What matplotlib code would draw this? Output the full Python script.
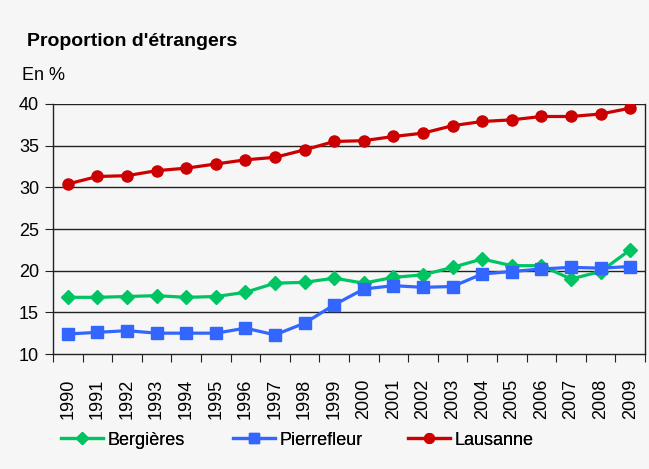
import matplotlib
matplotlib.use("Agg")
import matplotlib.pyplot as plt
from matplotlib.lines import Line2D

plt.rcParams['font.family'] = ['Liberation Sans Narrow', 'Liberation Sans', 'DejaVu Sans']

years = [str(y) for y in range(1990, 2010)]
bergieres = [16.8, 16.8, 16.9, 17.0, 16.8, 16.9, 17.4, 18.5, 18.6, 19.1,
             18.5, 19.2, 19.5, 20.4, 21.4, 20.6, 20.6, 19.0, 19.9, 22.5]
pierrefleur = [12.4, 12.6, 12.8, 12.5, 12.5, 12.5, 13.1, 12.3, 13.7, 15.9,
               17.8, 18.2, 18.0, 18.1, 19.6, 19.9, 20.2, 20.4, 20.3, 20.5]
lausanne = [30.4, 31.3, 31.4, 32.0, 32.3, 32.8, 33.3, 33.6, 34.5, 35.5,
            35.6, 36.1, 36.5, 37.4, 37.9, 38.1, 38.5, 38.5, 38.8, 39.5]
series_names = ['Bergières', 'Pierrefleur', 'Lausanne']
yticks = [10, 15, 20, 25, 30, 35, 40]

bg = '#f6f6f6'
fig = plt.figure(figsize=(6.49, 4.69), dpi=100, facecolor=bg)
ax = fig.add_axes([53/649, 1-354/469, (645-53)/649, 250/469], facecolor=bg)

x = list(range(len(years)))
c_g, c_b, c_r = '#00c461', '#3366ff', '#cc0000'
ax.plot(x, bergieres, color=c_g, lw=2.3, marker='D', ms=7, mec=c_g, zorder=3)
ax.plot(x, pierrefleur, color=c_b, lw=2.3, marker='s', ms=8, mec=c_b, zorder=3)
ax.plot(x, lausanne, color=c_r, lw=2.3, marker='o', ms=8, mec=c_r, zorder=4)

ax.set_ylim(10, 40)
ax.set_xlim(-0.5, len(years) - 0.5)
ax.set_yticks(yticks)
ax.set_yticklabels([str(v) for v in yticks], fontsize=13)
for v in yticks[1:]:
    ax.axhline(v, color='#222222', lw=1.0, zorder=1)

ax.set_xticks([i - 0.5 for i in range(len(years) + 1)])
ax.set_xticklabels([])
ax.set_xticks(x, minor=True)
ax.set_xticklabels(years, minor=True, rotation=90, fontsize=13)
ax.tick_params(axis='x', which='major', length=6, direction='out', color='#222222')
ax.tick_params(axis='x', which='minor', length=0, pad=18)
ax.tick_params(axis='y', length=6, direction='out', pad=4, color='#222222')

for s in ['left', 'bottom', 'right']:
    ax.spines[s].set_color('#222222')
    ax.spines[s].set_linewidth(1.0)
ax.spines['top'].set_visible(False)

fig.text(27/649, 1-42/469, "Proportion d'étrangers", fontsize=14, fontweight='bold',
         va='center', ha='left')
fig.text(22/649, 1-75/469, "En %", fontsize=13, va='center', ha='left')

handles = [
    Line2D([], [], color=c_g, lw=2.3, marker='D', ms=6, mec=c_g),
    Line2D([], [], color=c_b, lw=2.3, marker='s', ms=7, mec=c_b),
    Line2D([], [], color=c_r, lw=2.3, marker='o', ms=7, mec=c_r),
]
leg_x = [61, 233, 408]
for h, name, lx in zip(handles, series_names, leg_x):
    lg = fig.legend([h], [name], loc='center left', bbox_to_anchor=(lx/649, 1-440/469),
                    frameon=False, fontsize=13, handlelength=2.3, handletextpad=0.3,
                    borderpad=0, borderaxespad=0)
    fig.add_artist(lg)

fig.savefig('out.png', dpi=100, facecolor=bg)
